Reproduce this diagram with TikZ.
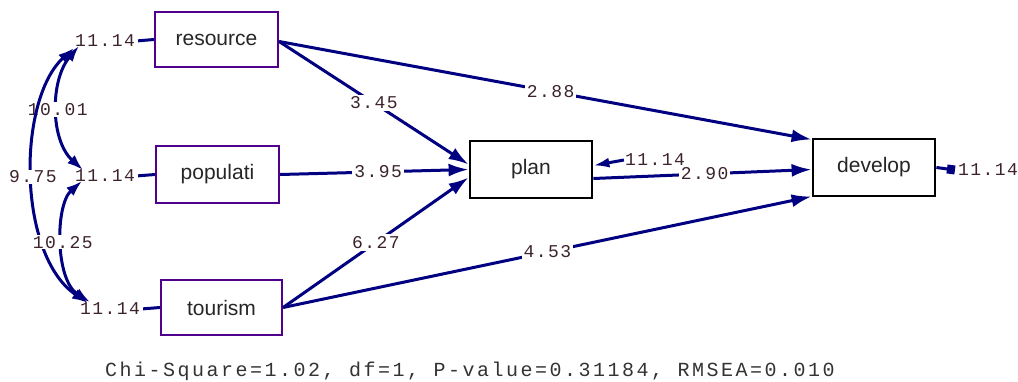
\documentclass[tikz,border=0pt]{standalone}
\usepackage{fontspec}
\setmainfont{Liberation Sans}
\newfontfamily\monof[LetterSpace=8]{Liberation Mono}
\newfontfamily\monob[LetterSpace=12.5]{Liberation Mono}
\usetikzlibrary{arrows.meta}
\definecolor{lnav}{RGB}{0,0,128}
\definecolor{exob}{RGB}{80,0,140}
\definecolor{numc}{RGB}{60,35,45}
\tikzset{
  exo/.style={draw=exob, line width=2.2pt, minimum width=123pt, minimum height=55pt, inner sep=0pt, font=\fontsize{21}{21}\selectfont, text=black!85},
  endo/.style={draw=black, line width=2.8pt, minimum width=122pt, minimum height=57pt, inner sep=0pt, font=\fontsize{21}{21}\selectfont, text=black!85},
  num/.style={font=\monof\fontsize{18}{18}\selectfont, text=numc, inner sep=1pt},
  lab/.style={font=\monof\fontsize{18}{18}\selectfont, text=numc, fill=white, inner sep=2pt},
  path/.style={draw=lnav, line width=3pt, -{Latex[length=20pt,width=13pt]}},
  cov/.style={draw=lnav, line width=3pt, {Latex[length=16pt,width=11pt]}-{Latex[length=16pt,width=11pt]}},
}
\begin{document}
\begin{tikzpicture}[x=1pt,y=-1pt]
\useasboundingbox (0,0) rectangle (1018,381);
\node[exo] (res) at (216.5,39.5) {resource};
\node[exo,minimum height=57pt] (pop) at (217.5,174.5) {populati};
\node[exo,minimum width=121pt] (tou) at (221.5,307.5) {tourism};
\node[endo] (plan) at (531,169.5) {plan};
\node[endo] (dev) at (874,167.5) {develop};

\node[num] (eres) at (105,41) {11.14};
\node[num] (epop) at (105,176) {11.14};
\node[num] (etou) at (110,309) {11.14};
\node[num] (eplan) at (655,160) {11.14};
\node[num] (edev) at (988,170) {11.14};

\draw[lnav,line width=3pt,shorten <=2pt] (eres.east) -- (res.west);
\draw[lnav,line width=3pt,shorten <=2pt] (epop.east) -- (pop.west);
\draw[lnav,line width=3pt,shorten <=2pt] (etou.east) -- (tou.west);
\draw[lnav,line width=3pt,-{Latex[length=16pt,width=10pt]}] (eplan.west) -- ([yshift=4pt]plan.east);
\draw[lnav,line width=3pt,-{Square[length=8pt,width=9pt]}] (dev.east) -- ([xshift=-2pt]edev.west);

\coordinate (r1) at ([yshift=-2pt]res.east);
\coordinate (t1) at (tou.east);
\draw[path] (r1) -- node[lab,pos=0.51] {2.88} ([yshift=28pt]dev.west);
\draw[path] (r1) -- node[lab,pos=0.5] {3.45} ([yshift=5pt]plan.west);
\draw[path] (pop.east) -- node[lab,pos=0.52] {3.95} (plan.west);
\draw[path] (t1) -- node[lab,pos=0.5] {6.27} ([yshift=-8pt]plan.west);
\draw[path] (t1) -- node[lab,pos=0.5] {4.53} ([yshift=-29pt]dev.west);
\draw[path] ([yshift=-9pt]plan.east) -- node[lab,pos=0.51] {2.90} ([yshift=-2pt]dev.west);

\coordinate (ca1) at (79,46);
\coordinate (ca2) at (83,170);
\coordinate (cb1) at (74,48);
\coordinate (cb2) at (88,303);
\coordinate (cc1) at (82,181);
\coordinate (cc2) at (90,302);
\draw[cov] (ca1) .. controls (50,80) and (50,140) .. node[lab,pos=0.5,inner sep=1pt] {10.01} (ca2);
\draw[cov] (cb1) .. controls (17,100) and (17,255) .. node[lab,pos=0.5,inner sep=1pt] {9.75} (cb2);
\draw[cov] (cc1) .. controls (55,205) and (55,280) .. node[lab,pos=0.5,inner sep=1pt] {10.25} (cc2);

\node[font=\monob\fontsize{20}{20}\selectfont, text=black!80] (fit) at (470,371) {Chi-Square=1.02, df=1, P-value=0.31184, RMSEA=0.010};
\end{tikzpicture}
\end{document}
